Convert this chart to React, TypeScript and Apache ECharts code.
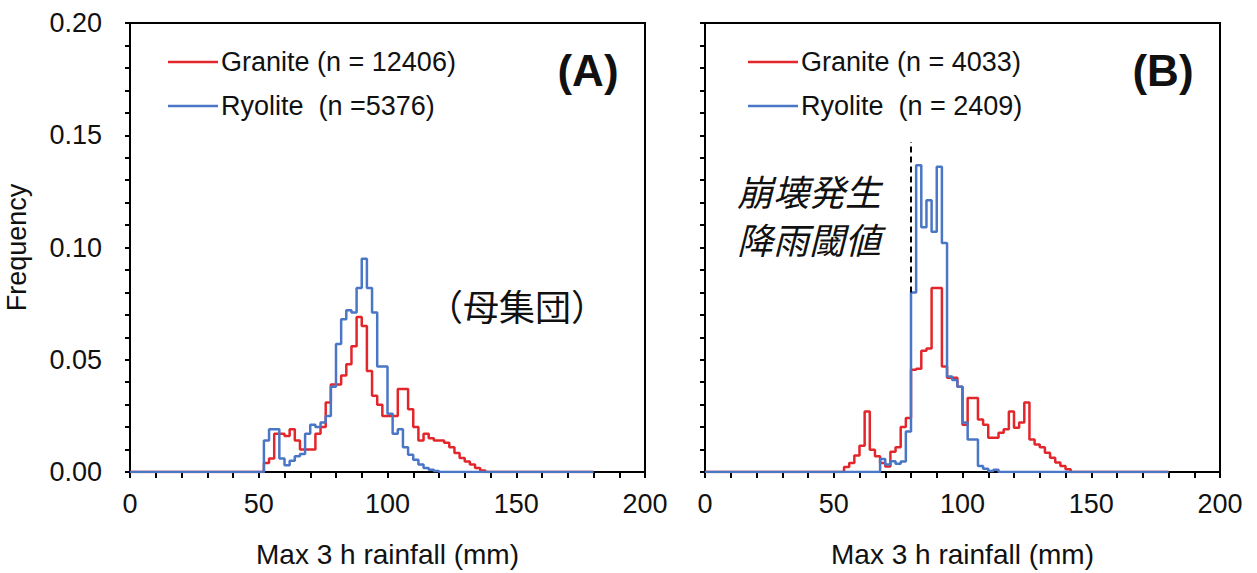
import React, { useEffect, useRef } from "react";
import * as echarts from "echarts";

// ---- data (2 mm bins; value = frequency; array index k -> left edge start + 2k) ----
const binWidth = 2;
const axisEnd = 180;

// Panel A (母集団)
const graniteAStart = 52;
const graniteA = [
  0.004, 0.006, 0.017, 0.017, 0.016, 0.019, 0.014, 0.010, 0.010, 0.010,
  0.017, 0.020, 0.031, 0.039, 0.039, 0.043, 0.048, 0.056, 0.069, 0.065,
  0.045, 0.034, 0.030, 0.025, 0.025, 0.025, 0.037, 0.037, 0.028, 0.020,
  0.014, 0.017, 0.015, 0.014, 0.014, 0.013, 0.011, 0.0085, 0.0062, 0.0047,
  0.0033, 0.0018, 0.0007,
];
const ryoliteAStart = 52;
const ryoliteA = [
  0.014, 0.019, 0.019, 0.006, 0.003, 0.005, 0.007, 0.008, 0.017, 0.021,
  0.020, 0.022, 0.025, 0.038, 0.057, 0.068, 0.072, 0.071, 0.082, 0.095,
  0.082, 0.071, 0.047, 0.047, 0.026, 0.017, 0.019, 0.011, 0.0077, 0.0055,
  0.0033, 0.0018, 0.001, 0.0005,
];

// Panel B
const graniteBStart = 54;
const graniteB = [
  0.0022, 0.004, 0.0073, 0.0117, 0.027, 0.0099, 0.007, 0.004, 0.0025, 0.009,
  0.011, 0.020, 0.024, 0.0455, 0.046, 0.054, 0.055, 0.082, 0.082, 0.047,
  0.042, 0.042, 0.038, 0.021, 0.033, 0.033, 0.0234, 0.021, 0.0153, 0.0153,
  0.0175, 0.019, 0.027, 0.0197, 0.022, 0.031, 0.0145, 0.0122, 0.011, 0.0086,
  0.0064, 0.0042, 0.0027, 0.0012,
];
const ryoliteBStart = 68;
const ryoliteB = [
  0.0058, 0.0033, 0.0048, 0.0037, 0.0047, 0.018, 0.080, 0.1366, 0.109, 0.121,
  0.107, 0.136, 0.102, 0.0425, 0.041, 0.038, 0.022, 0.0145, 0.0145, 0.0027,
  0.0015, 0.0005, 0.001,
];

const thresholdB = 80; // 崩壊発生降雨閾値 (mm)
const thresholdTop = 0.147;

const legendA = ["Granite (n = 12406)", "Ryolite  (n =5376)"];
const legendB = ["Granite (n = 4033)", "Ryolite  (n = 2409)"];
const panelLabels = ["(A)", "(B)"];
const xTickLabels = [0, 50, 100, 150, 200];
const yTickLabels = [0, 0.05, 0.1, 0.15, 0.2];

const RED = "#e3262b";
const BLUE = "#4a76c6";
const FONT = "'Liberation Sans', Arial, sans-serif";
const CJK = "'Noto Sans CJK JP', sans-serif";

function stepPoints(start: number, vals: number[]): number[][] {
  const pts: number[][] = [[0, 0]];
  vals.forEach((v, k) => pts.push([start + k * binWidth, v]));
  pts.push([start + vals.length * binWidth, 0]);
  pts.push([axisEnd, 0]);
  return pts;
}

function makeX(gridIndex: number) {
  return {
    type: "value",
    gridIndex,
    min: 0,
    max: 200,
    interval: 10,
    name: "Max 3 h rainfall (mm)",
    nameLocation: "middle",
    nameGap: 68,
    nameTextStyle: { fontSize: 28, color: "#111", fontFamily: FONT },
    axisLine: { show: true, lineStyle: { color: "#000", width: 2 } },
    axisTick: { show: true, length: 6, lineStyle: { color: "#000", width: 2 } },
    axisLabel: {
      fontSize: 27,
      color: "#111",
      fontFamily: FONT,
      margin: 18,
      formatter: (v: number) => (xTickLabels.includes(Math.round(v)) ? String(Math.round(v)) : ""),
    },
    splitLine: { show: false },
  };
}

function makeY(gridIndex: number, showLabels: boolean) {
  return {
    type: "value",
    gridIndex,
    min: 0,
    max: 0.2,
    interval: 0.01,
    name: showLabels ? "Frequency" : "",
    nameLocation: "middle",
    nameGap: 100,
    nameRotate: 90,
    nameTextStyle: { fontSize: 27, color: "#111", fontFamily: FONT },
    axisLine: { show: true, lineStyle: { color: "#000", width: 2 } },
    axisTick: { show: true, length: 5, lineStyle: { color: "#000", width: 2 } },
    axisLabel: {
      show: showLabels,
      fontSize: 27,
      color: "#111",
      fontFamily: FONT,
      margin: 28,
      formatter: (v: number) => {
        const r = Math.round(v * 100) / 100;
        return yTickLabels.some((t) => Math.abs(t - r) < 1e-9) ? r.toFixed(2) : "";
      },
    },
    splitLine: { show: false },
  };
}

function lineSeries(name: string, data: number[][], color: string, idx: number, z: number, extra: any = {}) {
  return {
    name,
    type: "line",
    step: "end",
    data,
    xAxisIndex: idx,
    yAxisIndex: idx,
    showSymbol: false,
    symbol: "none",
    z,
    lineStyle: { color, width: 2.5 },
    itemStyle: { color },
    ...extra,
  };
}

function legendGraphics(x0: number, texts: string[]) {
  const rows = [62, 106];
  const colors = [RED, BLUE];
  const out: any[] = [];
  rows.forEach((y, i) => {
    out.push({
      type: "line",
      shape: { x1: x0, y1: y, x2: x0 + 50, y2: y },
      style: { stroke: colors[i], lineWidth: 2.5 },
    });
    out.push({
      type: "text",
      x: x0 + 53,
      y,
      style: { text: texts[i], fontSize: 27, fontFamily: FONT, fill: "#111", align: "left", verticalAlign: "middle" },
    });
  });
  return out;
}

export default function App() {
  const ref = useRef<HTMLDivElement>(null);
  useEffect(() => {
    if (!ref.current) return;
    const chart = echarts.init(ref.current, undefined, { renderer: "svg" });
    const option: any = {
      animation: false,
      backgroundColor: "#fff",
      grid: [
        { left: 130, top: 23, width: 515, height: 450, show: true, borderColor: "#000", borderWidth: 2 },
        { left: 705, top: 23, width: 515, height: 450, show: true, borderColor: "#000", borderWidth: 2 },
      ],
      xAxis: [makeX(0), makeX(1)],
      yAxis: [makeY(0, true), makeY(1, false)],
      series: [
        lineSeries("Granite", stepPoints(graniteAStart, graniteA), RED, 0, 2),
        lineSeries("Ryolite", stepPoints(ryoliteAStart, ryoliteA), BLUE, 0, 3),
        lineSeries("Granite", stepPoints(graniteBStart, graniteB), RED, 1, 2),
        lineSeries("Ryolite", stepPoints(ryoliteBStart, ryoliteB), BLUE, 1, 3, {
          markLine: {
            silent: true,
            symbol: ["none", "none"],
            label: { show: false },
            lineStyle: { color: "#000", width: 2, type: [6, 4] },
            data: [[{ coord: [thresholdB, ryoliteB[(thresholdB - ryoliteBStart) / binWidth]] }, { coord: [thresholdB, thresholdTop] }]],
          },
        }),
      ],
      graphic: [
        ...legendGraphics(168, legendA),
        ...legendGraphics(748, legendB),
        {
          type: "text",
          x: 588,
          y: 70,
          style: { text: panelLabels[0], fontSize: 44, fontWeight: "bold", fontFamily: FONT, fill: "#111", align: "center", verticalAlign: "middle" },
        },
        {
          type: "text",
          x: 1163,
          y: 70,
          style: { text: panelLabels[1], fontSize: 44, fontWeight: "bold", fontFamily: FONT, fill: "#111", align: "center", verticalAlign: "middle" },
        },
        {
          type: "text",
          x: 517,
          y: 305,
          style: { text: "（母集団）", fontSize: 36, fontFamily: CJK, fill: "#111", align: "center", verticalAlign: "middle" },
        },
        {
          type: "text",
          x: 737,
          y: 214,
          style: {
            text: "崩壊発生\n降雨閾値",
            fontSize: 36,
            lineHeight: 48,
            fontStyle: "italic",
            fontFamily: CJK,
            fill: "#111",
            align: "left",
            verticalAlign: "middle",
          },
        },
      ],
    };
    chart.setOption(option);
    return () => chart.dispose();
  }, []);
  return <div ref={ref} style={{ position: "absolute", left: 0, top: 0, width: 1257, height: 573 }} />;
}
